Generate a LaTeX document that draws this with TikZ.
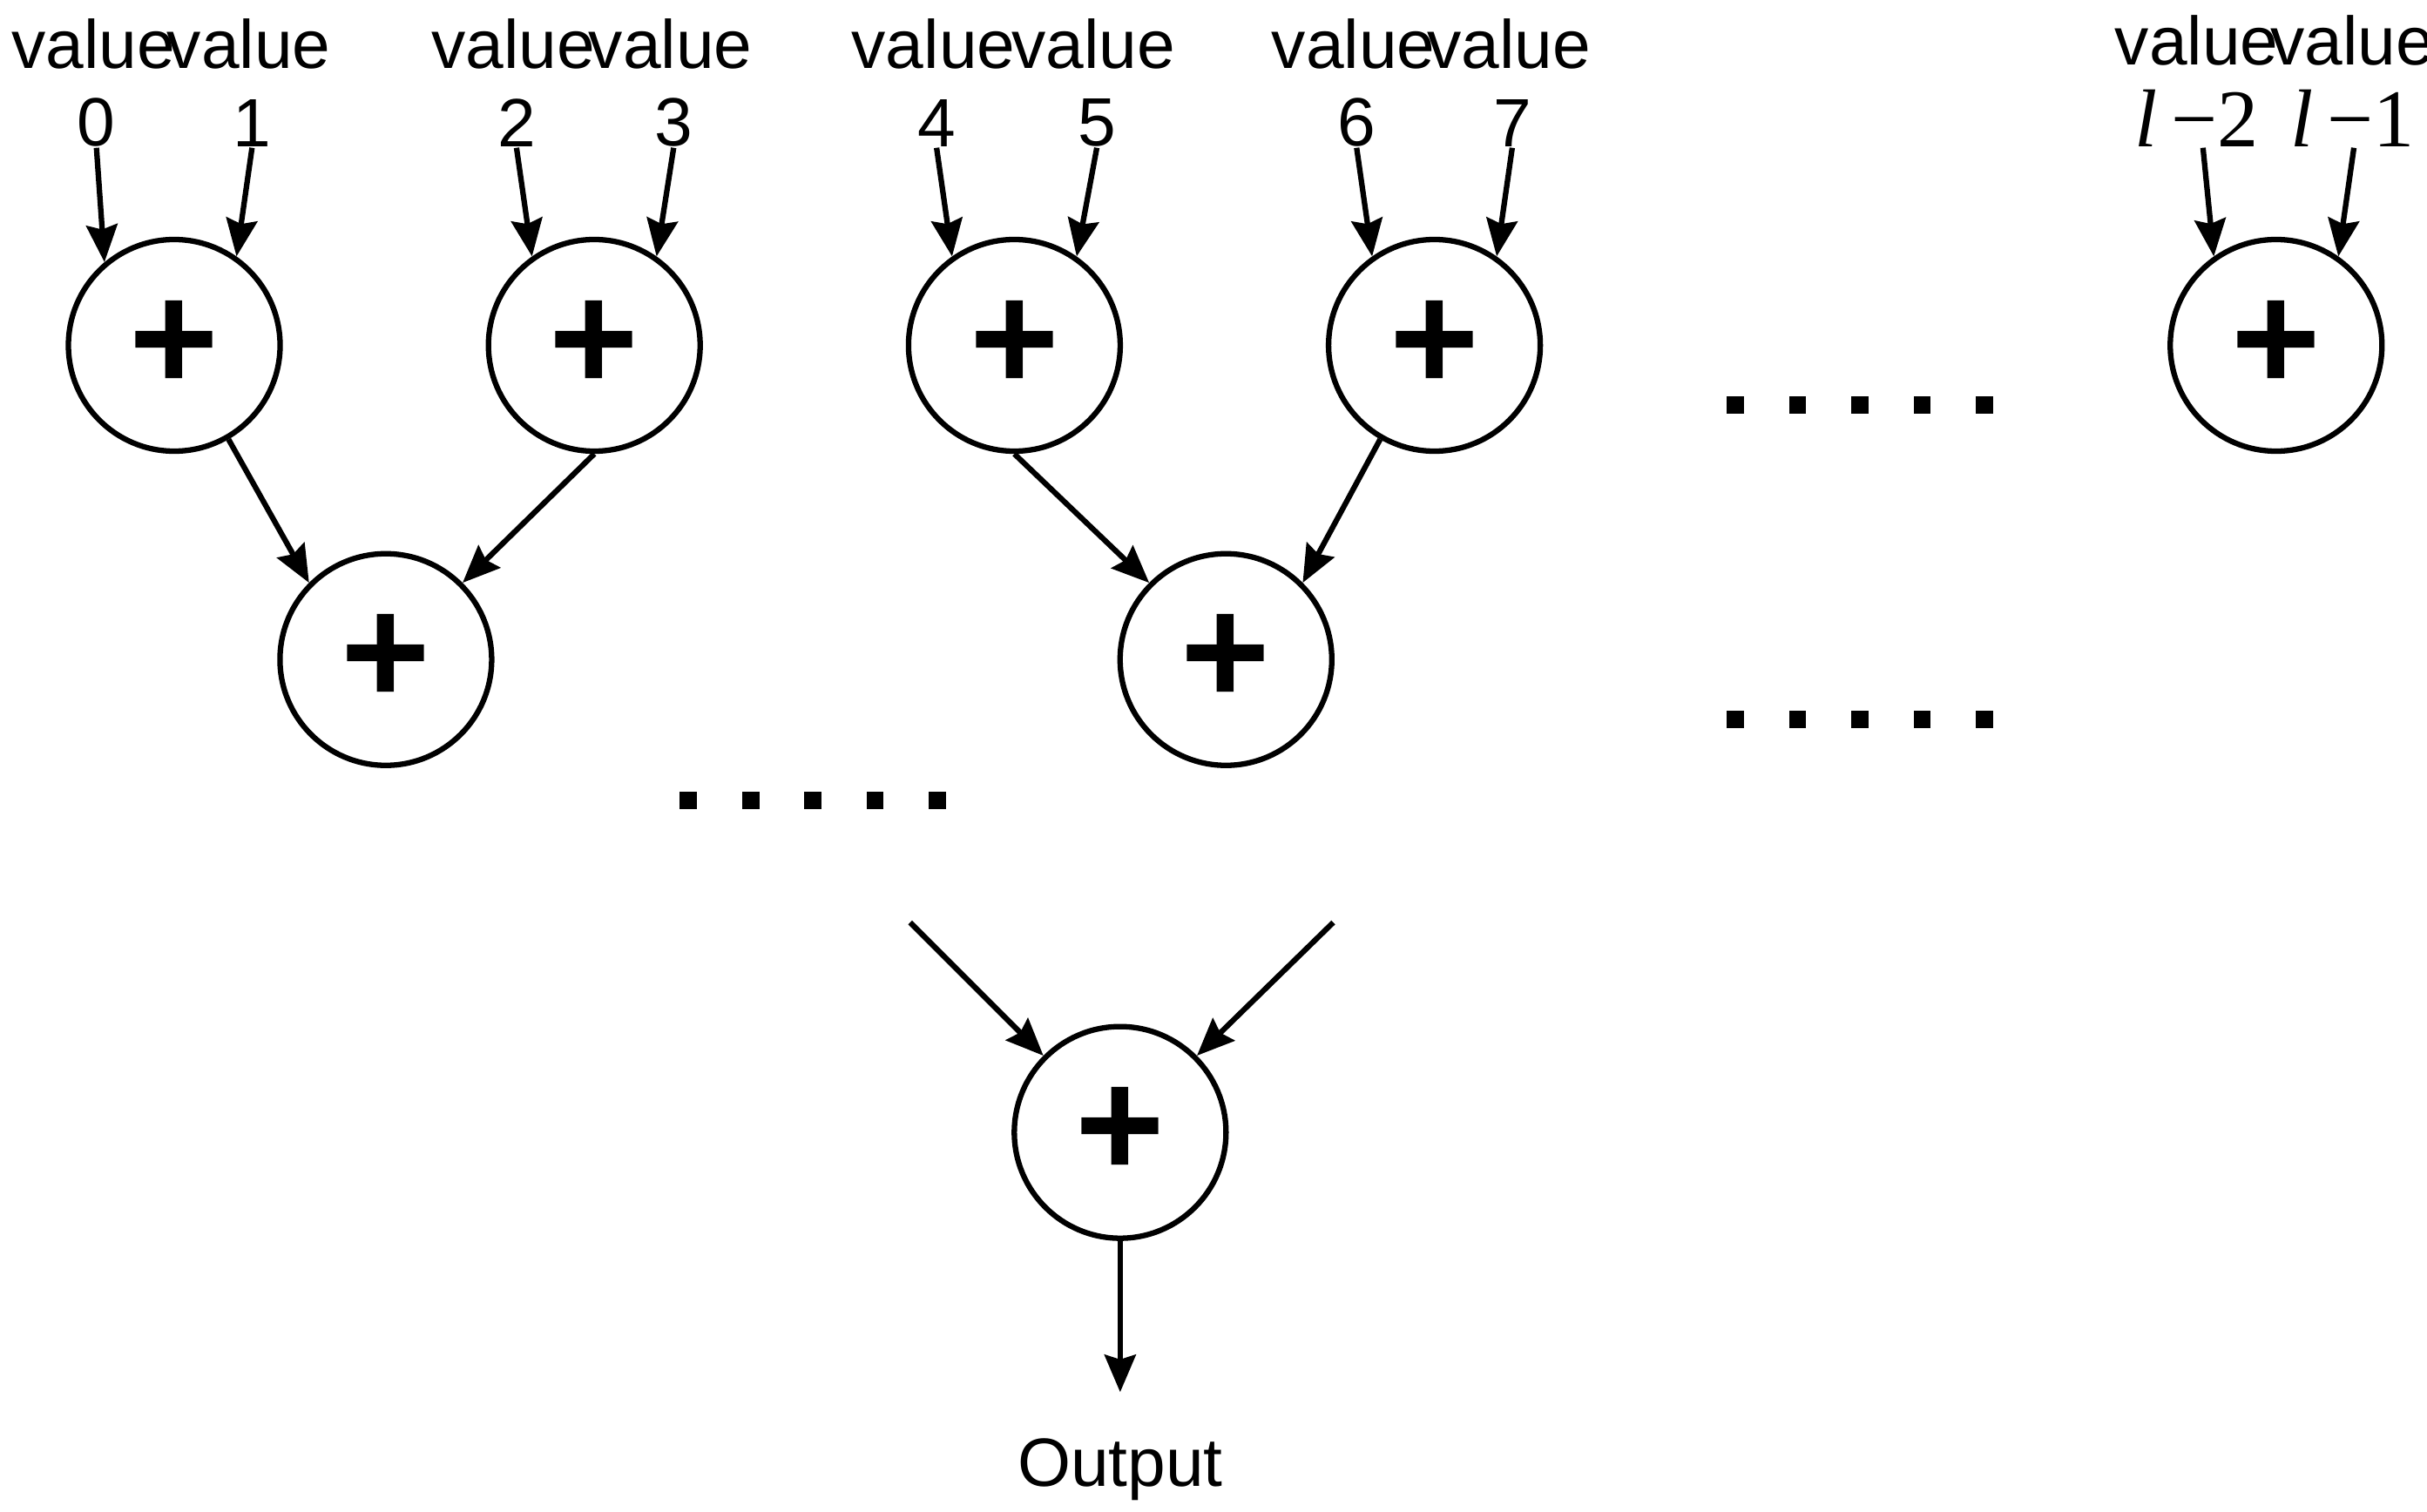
\documentclass[tikz,border=0pt]{standalone}
\usepackage{fontspec}
\setmainfont{Liberation Sans}
\newfontfamily\serifx{Liberation Serif}
\usetikzlibrary{arrows.meta}
\begin{document}
\begin{tikzpicture}[x=0.01cm,y=-0.01cm,
  add/.style={circle,draw,line width=1pt,minimum size=1.36cm,inner sep=0pt,font=\fontsize{28}{28}\selectfont\bfseries},
  lab/.style={font=\fontsize{12.5}{14}\selectfont,inner sep=0pt},
  arr/.style={line width=1pt,-{Stealth[length=0.24cm,width=0.2cm,inset=0.03cm]}},
  dot/.style={fill=black}]
\useasboundingbox (0,0) rectangle (1560,971.5);
\foreach \n/\x in {a/112,b/382,c/652,d/922,e/1463}{\node[add] (\n) at (\x,222) {+};}
\node[add] (f) at (248,424) {+};
\node[add] (g) at (788,424) {+};
\node[add] (o) at (720,728) {+};
% labels
\foreach \i/\x/\t in {v0/60/0,v1/160/1,v2/330/2,v3/431/3,v4/600/4,v5/703/5,v6/870/6,v7/970/7}{
  \node[lab] at (\x,28) {value};
  \node[lab,anchor=south] (\i) at (\x+2,95) {\t};}
\node[lab] at (1412,26) {value};
\node[lab] at (1512,26) {value};
\node[lab,anchor=south,font=\serifx\fontsize{15}{16}\selectfont] (v8) at (1412,95) {\itshape l\upshape\,−2};
\node[lab,anchor=south,font=\serifx\fontsize{15}{16}\selectfont] (v9) at (1512,95) {\itshape l\upshape\,−1};
\draw[arr] (v0.south) -- (a.130);
\draw[arr] (v1.south) -- (a.55);
\draw[arr] (v2.south) -- (b.125);
\draw[arr] (v3.south) -- (b.55);
\draw[arr] (v4.south) -- (c.125);
\draw[arr] (v5.south) -- (c.55);
\draw[arr] (v6.south) -- (d.125);
\draw[arr] (v7.south) -- (d.55);
\draw[arr] (1416,95) -- (e.125);
\draw[arr] (1513,95) -- (e.55);
\draw[arr] (a.-60) -- (f.135);
\draw[arr] (b.-90) -- (f.45);
\draw[arr] (c.-90) -- (g.135);
\draw[arr] (d.-120) -- (g.45);
\coordinate (l1) at (585,593);
\coordinate (l2) at (857,593);
\draw[arr] (l1) -- (o.135);
\draw[arr] (l2) -- (o.45);
\node[lab] (out) at (720,945) {Output};
\draw[arr] (o.south) -- (out.north |- 0,895);
% dots
\foreach \y/\x in {260/1110,462/1110,514/437}{
  \foreach \k in {0,...,4}{\fill (\x+\k*40,\y-5) rectangle ++(11,11);}}
\end{tikzpicture}
\end{document}
